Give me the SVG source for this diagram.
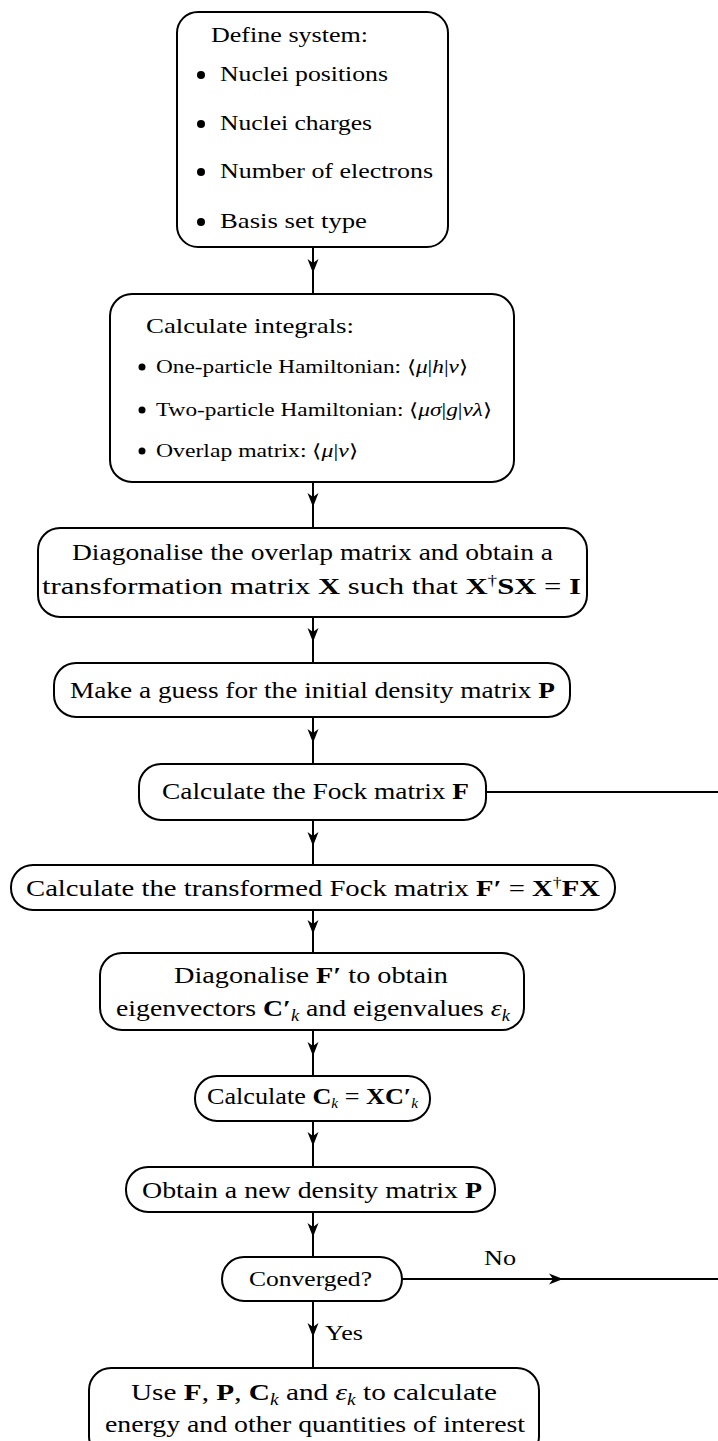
<svg xmlns="http://www.w3.org/2000/svg" width="718" height="1441" viewBox="0 0 718 1441">
<style>
.box{fill:#fff;stroke:#000;stroke-width:2}
.t{font-family:"Liberation Serif","Times New Roman",serif;fill:#000;font-size:24px}
.h{font-size:22px}
.s{font-size:18px}
.b{font-weight:bold}
.i{font-style:italic}
.c{fill:none;stroke:#000;stroke-width:2}
</style>
<defs>
<marker id="ah" markerUnits="userSpaceOnUse" markerWidth="18" markerHeight="14" viewBox="-15 -7 18 14" refX="0" refY="0" orient="auto">
<path d="M1,0 L-13,-5.5 L-9,0 L-13,5.5 Z" fill="#000"/>
</marker>
</defs>
<rect width="718" height="1441" fill="#fff"/>

<g id="connectors">
<path class="c" d="M313,247 L313,272 L313,294" marker-mid="url(#ah)"/>
<path class="c" d="M313,482 L313,506 L313,528" marker-mid="url(#ah)"/>
<path class="c" d="M313,617 L313,641 L313,662" marker-mid="url(#ah)"/>
<path class="c" d="M313,717 L313,742 L313,764" marker-mid="url(#ah)"/>
<path class="c" d="M313,820 L313,845 L313,865" marker-mid="url(#ah)"/>
<path class="c" d="M313,910 L313,933 L313,953" marker-mid="url(#ah)"/>
<path class="c" d="M313,1030 L313,1055 L313,1076" marker-mid="url(#ah)"/>
<path class="c" d="M313,1121 L313,1145 L313,1167" marker-mid="url(#ah)"/>
<path class="c" d="M313,1212 L313,1236 L313,1257" marker-mid="url(#ah)"/>
<path class="c" d="M313,1301 L313,1336 L313,1368" marker-mid="url(#ah)"/>
<path class="c" d="M402,1279 L562,1279 L720,1279" marker-mid="url(#ah)"/>
<path class="c" d="M486,792 L720,792"/>
<text class="t h" x="484" y="1265" textLength="32" lengthAdjust="spacingAndGlyphs">No</text>
<text class="t h" x="325" y="1340" textLength="38" lengthAdjust="spacingAndGlyphs">Yes</text>
</g>

<g id="n1">
<rect class="box" x="177" y="12" width="271" height="235" rx="21"/>
<text class="t h" x="211" y="42" textLength="157" lengthAdjust="spacingAndGlyphs">Define system:</text>
<circle cx="201" cy="75" r="4"/><text class="t h" x="220" y="81" textLength="168" lengthAdjust="spacingAndGlyphs">Nuclei positions</text>
<circle cx="201" cy="124" r="4"/><text class="t h" x="220" y="130" textLength="152" lengthAdjust="spacingAndGlyphs">Nuclei charges</text>
<circle cx="201" cy="172" r="4"/><text class="t h" x="220" y="178" textLength="213" lengthAdjust="spacingAndGlyphs">Number of electrons</text>
<circle cx="201" cy="222" r="4"/><text class="t h" x="220" y="228" textLength="147" lengthAdjust="spacingAndGlyphs">Basis set type</text>
</g>

<g id="n2">
<rect class="box" x="110" y="294" width="404" height="188" rx="22"/>
<text class="t h" x="146" y="333" textLength="208" lengthAdjust="spacingAndGlyphs">Calculate integrals:</text>
<circle cx="142" cy="367" r="3.5"/><text class="t s" x="156" y="373" textLength="312" lengthAdjust="spacingAndGlyphs">One-particle Hamiltonian: ⟨<tspan class="i">μ</tspan>|<tspan class="i">h</tspan>|<tspan class="i">ν</tspan>⟩</text>
<circle cx="142" cy="410" r="3.5"/><text class="t s" x="156" y="416" textLength="336" lengthAdjust="spacingAndGlyphs">Two-particle Hamiltonian: ⟨<tspan class="i">μσ</tspan>|<tspan class="i">g</tspan>|<tspan class="i">νλ</tspan>⟩</text>
<circle cx="142" cy="451" r="3.5"/><text class="t s" x="156" y="457" textLength="202" lengthAdjust="spacingAndGlyphs">Overlap matrix: ⟨<tspan class="i">μ</tspan>|<tspan class="i">ν</tspan>⟩</text>
</g>

<g id="n3">
<rect class="box" x="38" y="528" width="549" height="89" rx="22"/>
<text class="t" x="72" y="560" textLength="481" lengthAdjust="spacingAndGlyphs">Diagonalise the overlap matrix and obtain a</text>
<text class="t" x="42" y="594" textLength="539" lengthAdjust="spacingAndGlyphs">transformation matrix <tspan class="b">X</tspan> such that <tspan class="b">X</tspan><tspan font-size="15" dy="-9">†</tspan><tspan class="b" dy="9">SX</tspan> = <tspan class="b">I</tspan></text>
</g>

<g id="n4">
<rect class="box" x="54" y="663" width="516" height="54" rx="22"/>
<text class="t" x="70" y="698" textLength="485" lengthAdjust="spacingAndGlyphs">Make a guess for the initial density matrix <tspan class="b">P</tspan></text>
</g>

<g id="n5">
<rect class="box" x="139" y="764" width="347" height="56" rx="22"/>
<text class="t" x="162" y="799" textLength="307" lengthAdjust="spacingAndGlyphs">Calculate the Fock matrix <tspan class="b">F</tspan></text>
</g>

<g id="n6">
<rect class="box" x="11" y="865" width="604" height="45" rx="22"/>
<text class="t" x="26" y="896" textLength="574" lengthAdjust="spacingAndGlyphs">Calculate the transformed Fock matrix <tspan class="b">F′</tspan> = <tspan class="b">X</tspan><tspan font-size="15" dy="-9">†</tspan><tspan class="b" dy="9">FX</tspan></text>
</g>

<g id="n7">
<rect class="box" x="100" y="953" width="424" height="77" rx="22"/>
<text class="t" x="174" y="983" textLength="274" lengthAdjust="spacingAndGlyphs">Diagonalise <tspan class="b">F′</tspan> to obtain</text>
<text class="t" x="116" y="1016" textLength="394" lengthAdjust="spacingAndGlyphs">eigenvectors <tspan class="b">C′</tspan><tspan class="i" font-size="16" dy="5">k</tspan><tspan dy="-5"> and eigenvalues </tspan><tspan class="i">ε</tspan><tspan class="i" font-size="16" dy="5">k</tspan></text>
</g>

<g id="n8">
<rect class="box" x="195" y="1076" width="235" height="45" rx="22"/>
<text class="t" font-size="20" x="207" y="1104" textLength="211" lengthAdjust="spacingAndGlyphs">Calculate <tspan class="b">C</tspan><tspan class="i" font-size="14" dy="4">k</tspan><tspan dy="-4"> = </tspan><tspan class="b">XC′</tspan><tspan class="i" font-size="14" dy="4">k</tspan></text>
</g>

<g id="n9">
<rect class="box" x="126" y="1167" width="369" height="45" rx="22"/>
<text class="t" x="142" y="1198" textLength="340" lengthAdjust="spacingAndGlyphs">Obtain a new density matrix <tspan class="b">P</tspan></text>
</g>

<g id="n10">
<rect class="box" x="222" y="1257" width="180" height="44" rx="22"/>
<text class="t h" x="249" y="1286" textLength="123" lengthAdjust="spacingAndGlyphs">Converged?</text>
</g>

<g id="n11">
<rect class="box" x="89" y="1368" width="450" height="90" rx="22"/>
<text class="t" x="131" y="1400" textLength="366" lengthAdjust="spacingAndGlyphs">Use <tspan class="b">F</tspan>, <tspan class="b">P</tspan>, <tspan class="b">C</tspan><tspan class="i" font-size="16" dy="5">k</tspan><tspan dy="-5"> and </tspan><tspan class="i">ε</tspan><tspan class="i" font-size="16" dy="5">k</tspan><tspan dy="-5"> to calculate</tspan></text>
<text class="t" x="105" y="1432" textLength="420" lengthAdjust="spacingAndGlyphs">energy and other quantities of interest</text>
</g>
</svg>
